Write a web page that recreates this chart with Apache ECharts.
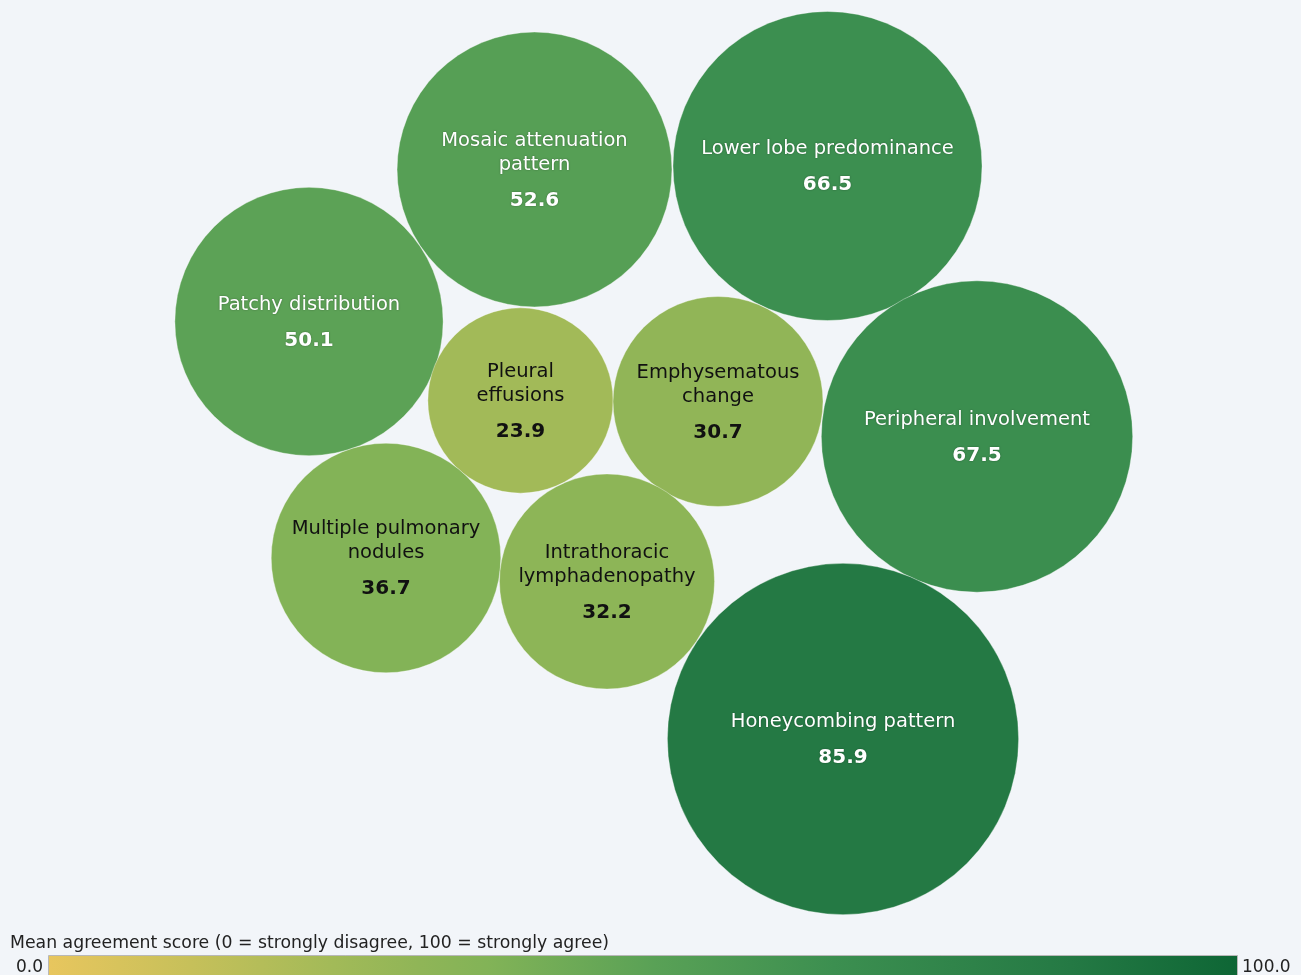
<!DOCTYPE html>
<html>
<head>
<meta charset="utf-8">
<script src="https://cdn.jsdelivr.net/npm/echarts@6/dist/echarts.min.js"></script>
<style>
html,body{margin:0;padding:0;background:#f2f5f9;}
#chart{width:1301px;height:975px;}
</style>
</head>
<body>
<div id="chart"></div>
<script>
// ---- data ----
const categories = [
  'Mosaic attenuation\npattern',
  'Lower lobe predominance',
  'Patchy distribution',
  'Pleural\neffusions',
  'Emphysematous\nchange',
  'Peripheral involvement',
  'Multiple pulmonary\nnodules',
  'Intrathoracic\nlymphadenopathy',
  'Honeycombing pattern'
];
const scores = [52.6, 66.5, 50.1, 23.9, 30.7, 67.5, 36.7, 32.2, 85.9];
// bubble-pack layout positions
const packX = [534.5, 827.5, 309, 520.5, 718, 977, 386, 607, 843];
const packY = [169.5, 166, 321.5, 400.5, 401.5, 436.5, 558, 581.5, 739];
const scaleMin = 0, scaleMax = 100;
const scaleTickLabels = ['0.0', '100.0'];
const scaleTitle = 'Mean agreement score (0 = strongly disagree, 100 = strongly agree)';

// colour scale (score -> colour)
const scaleStops = [0, 12, 24, 31, 37, 51, 66, 86, 100];
const scaleColors = ['#e8c65e', '#c6c05a', '#a2ba58', '#90b557', '#82b357', '#59a156', '#3c8f50', '#247944', '#0e6635'];

function hex2rgb(h) { return [1, 3, 5].map(i => parseInt(h.substr(i, 2), 16)); }
function colorAt(v) {
  for (let i = 1; i < scaleStops.length; i++) {
    if (v <= scaleStops[i]) {
      const t = (v - scaleStops[i - 1]) / (scaleStops[i] - scaleStops[i - 1]);
      const a = hex2rgb(scaleColors[i - 1]), b = hex2rgb(scaleColors[i]);
      return 'rgb(' + a.map((c, k) => Math.round(c + (b[k] - c) * t)).join(',') + ')';
    }
  }
  return scaleColors[scaleColors.length - 1];
}
const rampColors = [];
for (let s = scaleMin; s <= scaleMax; s += 1) rampColors.push(colorAt(s));

const seriesData = categories.map((c, i) => ({ name: c, value: [packX[i], packY[i], scores[i]] }));

const FONT = '"DejaVu Sans", Verdana, sans-serif';
const chart = echarts.init(document.getElementById('chart'));
chart.setOption({
  backgroundColor: '#f2f5f9',
  animation: false,
  title: {
    text: scaleTitle, left: 10, top: 935, padding: 0,
    textStyle: { fontFamily: FONT, fontSize: 17.3, fontWeight: 'normal', color: '#222' }
  },
  grid: { left: 0, top: 0, width: 1301, height: 975 },
  xAxis: { type: 'value', min: 0, max: 1301, show: false },
  yAxis: { type: 'value', min: 0, max: 975, inverse: true, show: false },
  visualMap: {
    show: false, type: 'continuous', min: scaleMin, max: scaleMax, dimension: 2,
    inRange: { color: rampColors }
  },
  graphic: [
    {
      type: 'rect', left: 48, top: 955, silent: true,
      shape: { width: 1189, height: 26 },
      style: {
        fill: new echarts.graphic.LinearGradient(0, 0, 1, 0,
          scaleStops.map((s, i) => ({ offset: (s - scaleMin) / (scaleMax - scaleMin), color: scaleColors[i] }))),
        stroke: '#b8b8b8', lineWidth: 1
      }
    },
    {
      type: 'text', right: 1301 - 43, top: 959, silent: true,
      style: { text: scaleTickLabels[0], font: '17px ' + FONT, fill: '#222' }
    },
    {
      type: 'text', left: 1242, top: 959, silent: true,
      style: { text: scaleTickLabels[1], font: '17px ' + FONT, fill: '#222' }
    }
  ],
  series: [{
    type: 'scatter',
    data: seriesData,
    symbol: 'circle',
    symbolSize: v => 37.9 * Math.sqrt(v[2]),
    itemStyle: { opacity: 1, borderColor: 'rgba(255,255,255,0.35)', borderWidth: 1 },
    emphasis: { disabled: true },
    label: {
      show: true, position: 'inside', offset: [0, 7],
      formatter: p => {
        const dark = p.value[2] < 45;
        const n = dark ? 'nd' : 'n', v = dark ? 'vd' : 'v';
        const lines = p.name.split('\n').map(s => '{' + n + '|' + s + '}');
        return lines.join('\n') + '\n{' + v + '|' + p.value[2].toFixed(1) + '}';
      },
      rich: {
        n: { fontFamily: FONT, fontSize: 19.5, color: '#ffffff', lineHeight: 24, align: 'center',
             textShadowColor: 'rgba(0,0,0,0.35)', textShadowBlur: 2 },
        nd: { fontFamily: FONT, fontSize: 19.5, color: '#111111', lineHeight: 24, align: 'center' },
        v: { fontFamily: FONT, fontSize: 20, fontWeight: 'bold', color: '#ffffff', lineHeight: 48, align: 'center',
             textShadowColor: 'rgba(0,0,0,0.35)', textShadowBlur: 2 },
        vd: { fontFamily: FONT, fontSize: 20, fontWeight: 'bold', color: '#111111', lineHeight: 48, align: 'center' }
      }
    }
  }]
});
</script>
</body>
</html>
